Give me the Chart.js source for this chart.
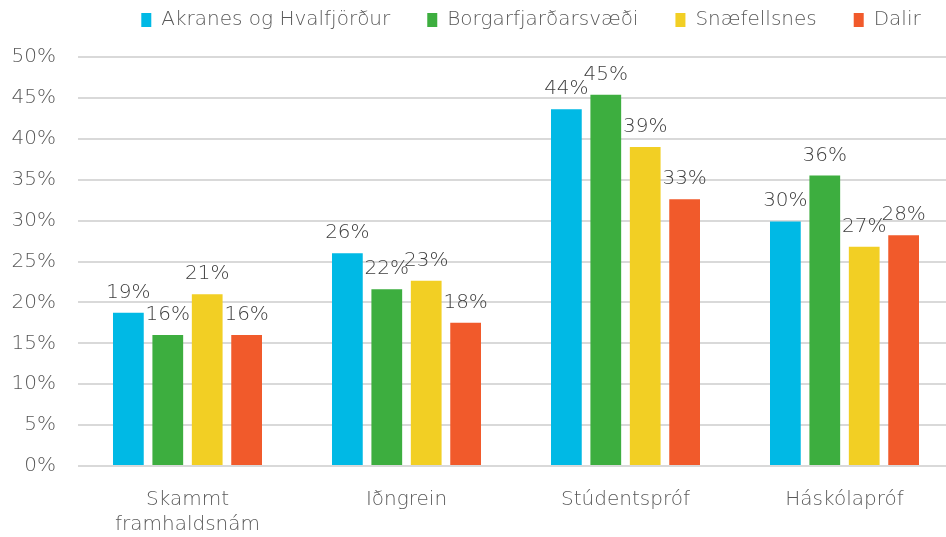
<!DOCTYPE html>
<html>
<head>
<meta charset="utf-8">
<script src="https://cdn.jsdelivr.net/npm/chart.js@4/dist/chart.umd.min.js"></script>
<style>
  html, body { margin: 0; padding: 0; background: #fff; overflow: hidden; }
  #wrap { width: 956px; height: 537px; position: relative; }
</style>
</head>
<body>
<div id="wrap"><canvas id="chart"></canvas></div>
<script>
// Data
const categories = [['Skammt', 'framhaldsnám'], 'Iðngrein', 'Stúdentspróf', 'Háskólapróf'];
const seriesNames = ['Akranes og Hvalfjörður', 'Borgarfjarðarsvæði', 'Snæfellsnes', 'Dalir'];
const akranes = [18.75, 26.0, 43.6, 29.9];
const borgarfjordur = [16.0, 21.6, 45.4, 35.5];
const snaefellsnes = [21.0, 22.65, 39.0, 26.8];
const dalir = [16.0, 17.5, 32.6, 28.2];
const colors = ['#00b9e5', '#3dae3f', '#f2cf24', '#f15a2b'];
const yTicks = [0, 5, 10, 15, 20, 25, 30, 35, 40, 45, 50];

const FONT = "'DejaVu Sans', sans-serif";
const FSIZE = 20;

// value labels above each bar
const barLabels = {
  id: 'barLabels',
  afterDatasetsDraw(chart) {
    const ctx = chart.ctx;
    ctx.save();
    ctx.font = `200 ${FSIZE}px ${FONT}`;
    ctx.fillStyle = '#404040';
    ctx.textAlign = 'center';
    ctx.textBaseline = 'alphabetic';
    chart.data.datasets.forEach((ds, i) => {
      chart.getDatasetMeta(i).data.forEach((bar, j) => {
        ctx.fillText(Math.round(ds.data[j]) + '%', bar.x, bar.y - 15);
      });
    });
    ctx.restore();
  }
};

// nudge the legend to the right, like in the original
const legendShift = {
  id: 'legendShift',
  afterLayout(chart) {
    chart.legend.left += 50;
    chart.legend.right += 50;
  }
};

const seriesData = [akranes, borgarfjordur, snaefellsnes, dalir];

new Chart(document.getElementById('chart'), {
  type: 'bar',
  data: {
    labels: categories,
    datasets: seriesData.map((d, i) => ({
      label: seriesNames[i],
      data: d,
      xAxisID: 'x',
      yAxisID: 'y',
      backgroundColor: colors[i],
      borderWidth: 0,
      barPercentage: 0.78,
      categoryPercentage: 0.72
    }))
  },
  options: {
    responsive: true,
    maintainAspectRatio: false,
    animation: false,
    layout: { padding: { left: 8, right: 2, top: -27, bottom: 0 } },
    plugins: {
      legend: {
        position: 'top',
        labels: {
          boxWidth: 10,
          boxHeight: 14,
          padding: 37,
          color: '#595959',
          font: { family: FONT, size: FSIZE, weight: '200' }
        }
      },
      tooltip: { enabled: false }
    },
    scales: {
      x: {
        grid: { display: false },
        border: { display: false },
        ticks: {
          color: '#595959',
          padding: 13,
          maxRotation: 0,
          font: { family: FONT, size: FSIZE, weight: '200', lineHeight: 1.25 }
        },
        afterFit: (s) => { s.height = 71; }
      },
      // empty spacer between legend and plot
      top: {
        type: 'linear',
        position: 'top',
        grid: { display: false },
        border: { display: false },
        ticks: { display: false },
        afterFit: (s) => { s.height = 17; }
      },
      y: {
        min: 0,
        max: 50,
        afterBuildTicks: (s) => { s.ticks = yTicks.map((v) => ({ value: v })); },
        grid: { color: '#d9d9d9', lineWidth: 2, drawTicks: false },
        border: { display: false },
        ticks: {
          color: '#595959',
          padding: 22,
          font: { family: FONT, size: FSIZE, weight: '200' },
          callback: (v) => v + '%'
        },
        afterFit: (s) => { s.width = 70; }
      }
    }
  },
  plugins: [barLabels, legendShift]
});
</script>
</body>
</html>
